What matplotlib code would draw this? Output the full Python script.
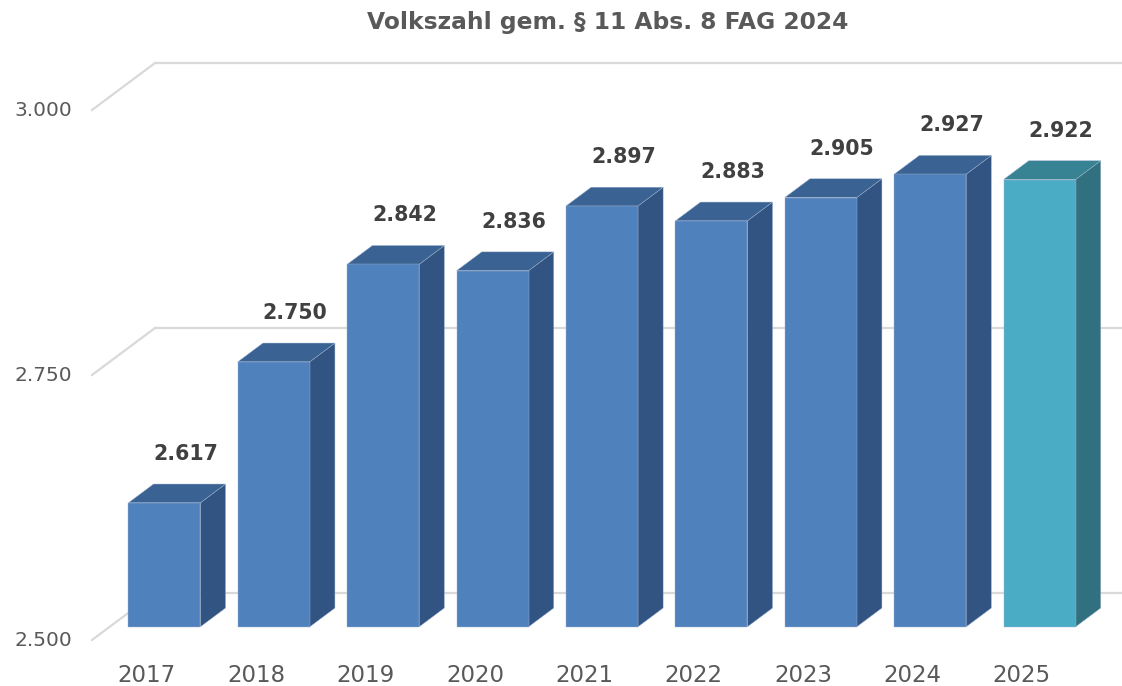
import numpy as np
import matplotlib.pyplot as plt
from matplotlib.patches import Polygon

# Daten
jahre = ["2017", "2018", "2019", "2020", "2021", "2022", "2023", "2024", "2025"]
volkszahl = [2617, 2750, 2842, 2836, 2897, 2883, 2905, 2927, 2922]
y_ticks = [2500, 2750, 3000]
y_labels = ["2.500", "2.750", "3.000"]
titel = "Volkszahl gem. § 11 Abs. 8 FAG 2024"

# Farben (Vorderseite, Seite, Oberseite)
blau = ("#4F81BD", "#325482", "#3A6393")
tuerkis = ("#4BACC6", "#31717F", "#378293")

# Pseudo-3D Geometrie (in Datenkoordinaten)
px_x = 109.4          # Pixel pro Kategorie
px_y = 1.06           # Pixel pro Einheit
tiefe_x = 63 / px_x   # Versatz der Rueckwand
tiefe_y = 47 / px_y
f0, f1 = 0.28, 0.68   # Lage des Balkens in der Tiefe
breite = 72 / px_x
y0 = y_ticks[0]

plt.rcParams["font.family"] = "DejaVu Sans"

fig = plt.figure(figsize=(11.22, 6.86), dpi=100)
ax = fig.add_axes([0, 0, 1, 1])
ax.set_xlim(-0.5 - 92 / px_x, -0.5 + (1122 - 92) / px_x)
ax.set_ylim(y0 - 46 / px_y, 3000 + 110 / px_y)
ax.axis("off")

n = len(jahre)
x_links = -0.5
x_rechts = n - 0.5

# Gitterlinien: Rueckwand + linke Wand
for t, lab in zip(y_ticks, y_labels):
    ax.plot([x_links + tiefe_x, x_rechts + tiefe_x + 1], [t + tiefe_y, t + tiefe_y],
            color="#D9D9D9", lw=1.6, zorder=1)
    ax.plot([x_links, x_links + tiefe_x], [t, t + tiefe_y],
            color="#D9D9D9", lw=1.6, zorder=1)
    ax.text(x_links - 20 / px_x, t, lab, ha="right", va="center",
            fontsize=14.5, color="#595959")

# Balken
for i, (jahr, wert) in enumerate(zip(jahre, volkszahl)):
    front, seite, oben = tuerkis if jahr == "2025" else blau
    xl = i - breite / 2 + f0 * tiefe_x
    xr = i + breite / 2 + f0 * tiefe_x
    yb = y0 + f0 * tiefe_y
    yt = wert + f0 * tiefe_y
    dx = (f1 - f0) * tiefe_x
    dy = (f1 - f0) * tiefe_y
    ax.add_patch(Polygon([(xr, yb), (xr + dx, yb + dy), (xr + dx, yt + dy), (xr, yt)],
                         closed=True, fc=seite, ec="#9FB4D0", lw=0.3, zorder=3))
    ax.add_patch(Polygon([(xl, yt), (xr, yt), (xr + dx, yt + dy), (xl + dx, yt + dy)],
                         closed=True, fc=oben, ec="#9FB4D0", lw=0.3, zorder=3))
    ax.add_patch(Polygon([(xl, yb), (xr, yb), (xr, yt), (xl, yt)],
                         closed=True, fc=front, ec="#9FB4D0", lw=0.3, zorder=4))
    ax.text(i + 39 / px_x, wert + 62 / px_y, f"{wert / 1000:.3f}",
            ha="center", va="center", fontsize=14.8, fontweight="bold",
            color="#404040", zorder=5)
    ax.text(i, y0 - 35 / px_y, jahr, ha="center", va="center",
            fontsize=16.5, color="#595959")

fig.text(0.542, 1 - 23 / 686, titel, ha="center", va="center",
         fontsize=16.8, fontweight="bold", color="#595959")

fig.savefig("out.png", dpi=100)
